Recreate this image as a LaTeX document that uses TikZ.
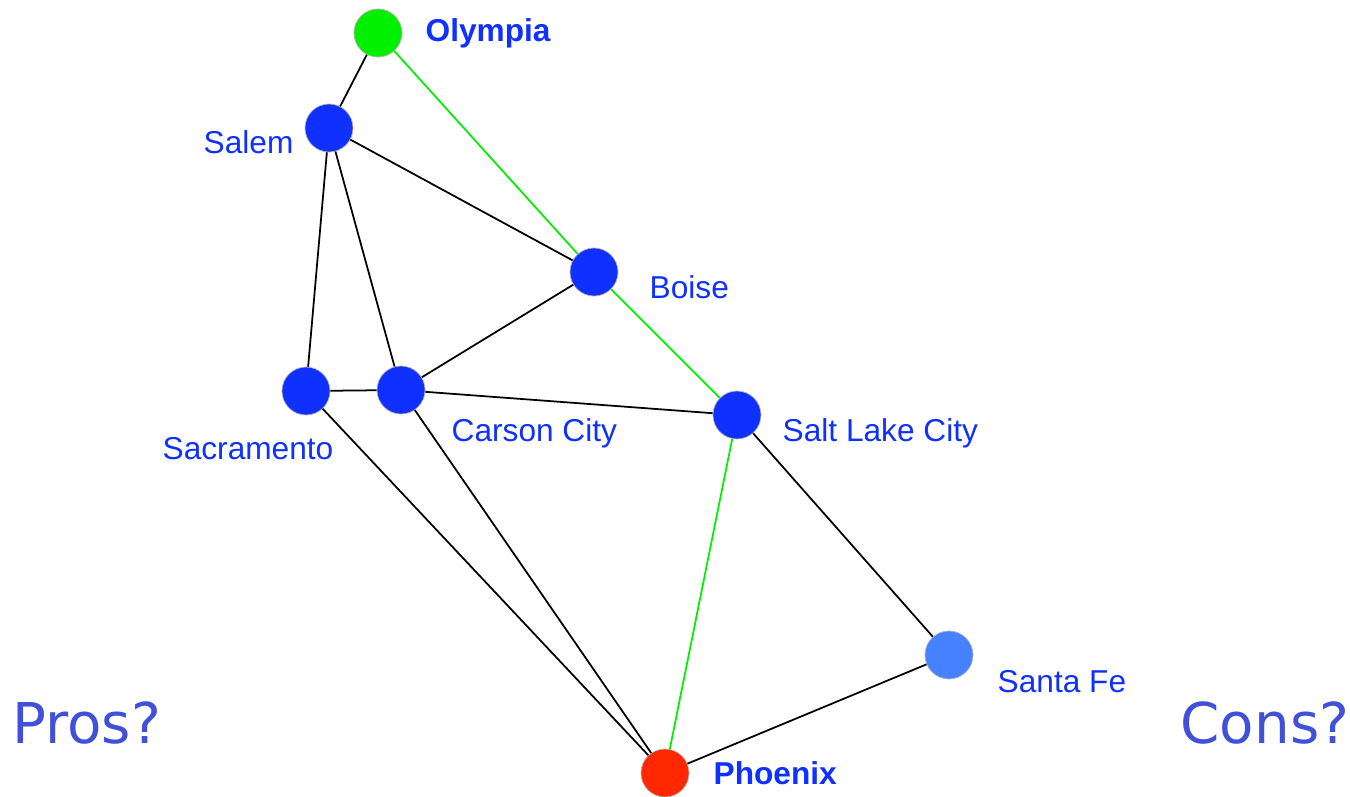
\documentclass[tikz,border=0pt]{standalone}
\usepackage{fontspec}
\setmainfont{Liberation Sans}
\newfontfamily\prosfont{DejaVu Sans}
\definecolor{citeblue}{HTML}{1030FF}
\definecolor{lightblue}{HTML}{4682FF}
\definecolor{cityred}{HTML}{FF2800}
\definecolor{citygreen}{HTML}{00F000}
\definecolor{askblue}{HTML}{4050D8}
\begin{document}
\begin{tikzpicture}[x=0.01cm,y=-0.01cm]
      \tikzset{city/.style={draw=gray!60, circle, inner sep=0pt, minimum size=.48cm, fill=citeblue, line width=0.2pt},
               cityname/.style={anchor=base west, inner sep=0pt, text=citeblue, font=\fontsize{9}{11}\selectfont},
               ask/.style={anchor=base west, inner sep=0pt, text=askblue, font=\prosfont\fontsize{16}{19}\selectfont}}
      \useasboundingbox (0,0) rectangle (1350,796);
%% Vertices
      	\node[city, fill=citygreen] (olympia) at (378,33) {};
      	\node[city] (salem) at (329,128) {};
      	\node[city] (boise) at (594,272) {};
      	\node[city] (sacramento) at (306,391) {};
      	\node[city] (carson) at (401,390) {};
      	\node[city] (slc) at (737,415) {};
      	\node[city, fill=lightblue] (santafe) at (949,655) {};
      	\node[city, fill=cityred] (phoenix) at (665,773) {};
%% Names
      	\node[cityname, font=\bfseries\fontsize{9}{11}\selectfont] (olympiaL) at (425,41) {Olympia};
      	\node[cityname] (salemL) at (203,153) {Salem};
      	\node[cityname] (boiseL) at (649,298) {Boise};
      	\node[cityname] (sacramentoL) at (162,459) {Sacramento};
      	\node[cityname] (carsonL) at (451,441) {Carson City};
      	\node[cityname] (slcL) at (782,441) {Salt Lake City};
      	\node[cityname] (santafeL) at (997,692) {Santa Fe};
      	\node[cityname, font=\bfseries\fontsize{9}{11}\selectfont] (phoenixL) at (713,784) {Phoenix};
      	\node[ask] (pros) at (12,743) {Pros?};
      	\node[ask] (cons) at (1180,743) {Cons?};
%Edges
	%black roads
		\path [line width=0.5pt] (olympia) edge (salem);
		\path [line width=0.5pt] (salem) edge (boise);
		\path [line width=0.5pt] (salem) edge (sacramento);
		\path [line width=0.5pt] (salem) edge (carson);
		\path [line width=0.5pt] (boise) edge (carson);
		\path [line width=0.5pt] (sacramento) edge (carson);
		\path [line width=0.5pt] (carson) edge (slc);
		\path [line width=0.5pt] (sacramento) edge (phoenix);
		\path [line width=0.5pt] (carson) edge (phoenix);
		\path [line width=0.5pt] (slc) edge (santafe);
		\path [line width=0.5pt] (santafe) edge (phoenix);
	%green route
		\path [line width=0.5pt, citygreen] (olympia) edge (boise);
		\path [line width=0.5pt, citygreen] (boise) edge (slc);
		\path [line width=0.5pt, citygreen] (slc) edge (phoenix);
\end{tikzpicture}
\end{document}
